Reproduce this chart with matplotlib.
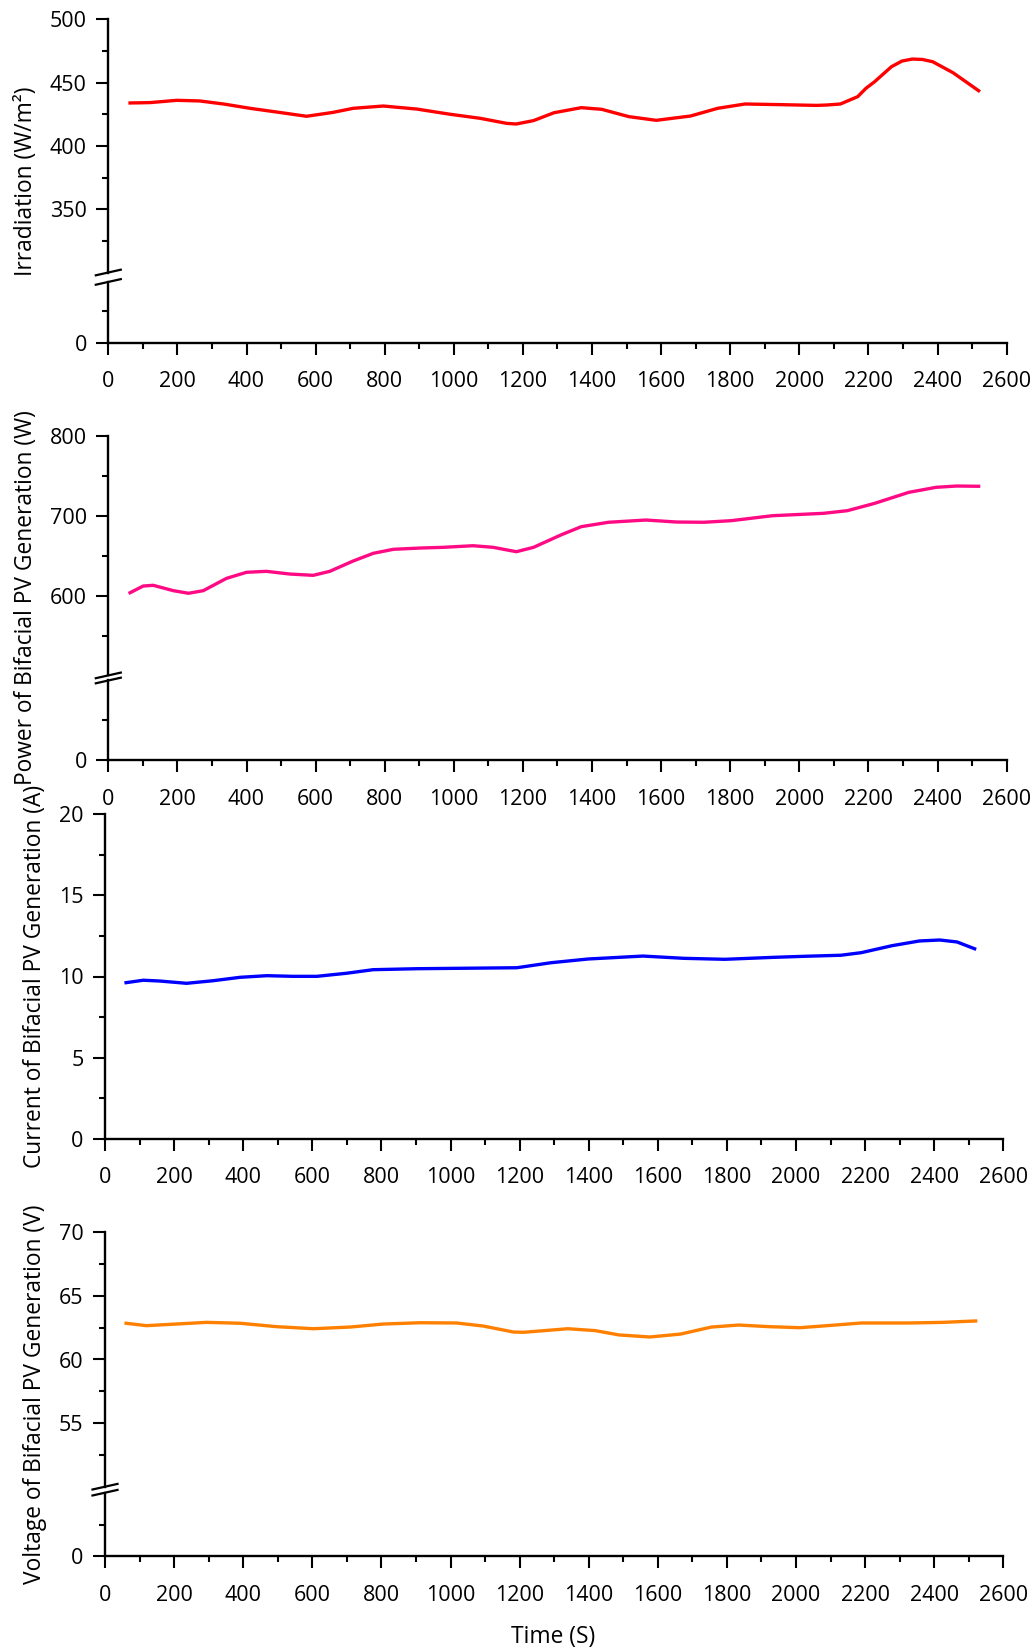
import numpy as np
import matplotlib
matplotlib.use("Agg")
import matplotlib.pyplot as plt
from matplotlib.lines import Line2D
from matplotlib.ticker import MultipleLocator

plt.rcParams['font.family'] = ['Open Sans', 'DejaVu Sans']
plt.rcParams['font.size'] = 15.5
LABEL_SIZE = 16.4

W, H = 1036, 1650

# ---- data ----
irr_t = [63, 121, 198, 265, 336, 410, 494, 574, 651, 709, 796, 893, 989, 1076, 1153,
         1181, 1231, 1290, 1369, 1428, 1507, 1586, 1685, 1764, 1843, 1942, 2050, 2080,
         2119, 2169, 2193, 2218, 2243, 2267, 2297, 2327, 2356, 2386, 2445, 2519]
irr_v = [433.9, 434.2, 436.0, 435.5, 433.0, 429.7, 426.5, 423.4, 426.5, 429.7, 431.5, 429.1,
         425.0, 421.8, 417.8, 417.3, 420.0, 426.2, 430.2, 428.9, 423.1, 420.2, 423.6, 429.7,
         433.1, 432.6, 432.0, 432.3, 433.1, 438.9, 445.5, 450.7, 456.8, 462.6, 467.0, 468.6,
         468.3, 466.5, 457.8, 443.6]

pow_t = [63, 101, 130, 188, 232, 275, 342, 400, 458, 526, 593, 641, 709, 767, 825, 902,
         970, 1056, 1114, 1181, 1231, 1310, 1369, 1448, 1556, 1645, 1724, 1803, 1922, 2070,
         2139, 2218, 2317, 2396, 2455, 2519]
pow_v = [603.6, 612.0, 612.9, 606.2, 602.9, 606.2, 621.6, 629.2, 630.4, 627.0, 625.4, 630.4,
         643.4, 653.0, 658.0, 659.6, 660.5, 662.5, 660.5, 655.0, 660.5, 676.0, 686.4, 691.9,
         694.7, 692.2, 691.9, 693.9, 700.1, 703.1, 706.4, 715.6, 729.4, 735.7, 737.3, 737.0]

cur_t = [61, 111, 159, 236, 313, 391, 468, 545, 613, 699, 776, 902, 1046, 1192, 1291,
         1399, 1557, 1676, 1794, 1933, 2031, 2130, 2189, 2278, 2357, 2416, 2466, 2517]
cur_v = [9.62, 9.77, 9.72, 9.58, 9.74, 9.95, 10.05, 10.01, 10.01, 10.20, 10.42, 10.48,
         10.51, 10.54, 10.85, 11.08, 11.26, 11.12, 11.06, 11.18, 11.25, 11.31, 11.47, 11.90,
         12.19, 12.25, 12.13, 11.71]

vol_t = [61, 120, 207, 294, 391, 497, 603, 709, 806, 912, 1018, 1095, 1182, 1212, 1340,
         1419, 1488, 1577, 1666, 1755, 1834, 1923, 2011, 2090, 2189, 2327, 2426, 2520]
vol_v = [62.85, 62.66, 62.79, 62.92, 62.85, 62.58, 62.42, 62.55, 62.79, 62.89, 62.87, 62.63,
         62.16, 62.14, 62.42, 62.27, 61.93, 61.77, 62.00, 62.55, 62.71, 62.58, 62.50, 62.66,
         62.87, 62.87, 62.92, 63.03]

xticks = list(range(0, 2601, 200))

fig = plt.figure(figsize=(W / 100, H / 100), dpi=100)


def px_axes(left, top, right, bottom):
    return fig.add_axes([left / W, 1 - bottom / H, (right - left) / W, (bottom - top) / H])


def style(ax, xaxis=True):
    for s in ['top', 'right']:
        ax.spines[s].set_visible(False)
    for s in ['left', 'bottom']:
        ax.spines[s].set_linewidth(1.7)
    ax.tick_params(which='major', direction='out', length=8.5, width=1.5, pad=7)
    ax.tick_params(which='minor', direction='out', length=4, width=1.5)
    ax.set_xlim(0, 2600)
    if xaxis:
        ax.set_xticks(xticks)
        ax.xaxis.set_minor_locator(MultipleLocator(100))
        ax.tick_params(axis='x', which='major', pad=12)
        ax.tick_params(axis='x', which='minor', length=4.5)
    else:
        ax.spines['bottom'].set_visible(False)
        ax.tick_params(axis='x', which='both', bottom=False, labelbottom=False)


def break_marks(x, y_up, y_lo):
    for yc in (y_up, y_lo):
        fig.add_artist(Line2D([(x - 12.5) / W, (x + 12.5) / W],
                              [1 - (yc + 2.8) / H, 1 - (yc - 2.8) / H],
                              color='black', lw=1.6, transform=fig.transFigure))


def broken_panel(left, right, top, bottom, hi_lim, lo_lim, scale, major, minor,
                 lo_major, lo_minor, t, v, color):
    # scale in pixels per data unit
    y_split_hi = top + (hi_lim[1] - hi_lim[0]) * scale
    y_split_lo = bottom - (lo_lim[1] - lo_lim[0]) * scale
    ax_hi = px_axes(left, top, right, y_split_hi)
    ax_lo = px_axes(left, y_split_lo, right, bottom)
    style(ax_hi, xaxis=False)
    style(ax_lo)
    ax_hi.set_ylim(*hi_lim)
    ax_lo.set_ylim(*lo_lim)
    ax_hi.set_yticks(major)
    ax_hi.set_yticks(minor, minor=True)
    ax_lo.set_yticks(lo_major)
    ax_lo.set_yticks(lo_minor, minor=True)
    ax_hi.plot(t, v, color=color, lw=2.4, clip_on=False, solid_joinstyle='round')
    break_marks(left, y_split_hi, y_split_lo)
    return ax_hi, ax_lo


# panel 1: irradiation
broken_panel(108.3, 1006.6, 19.3, 342.7, (300, 500), (0, 48), 1.266,
             [350, 400, 450, 500], [325, 375, 425, 475], [0], [25],
             irr_t, irr_v, '#ff0000')
fig.text(26 / W, 1 - 181 / H, 'Irradiation (W/m²)', rotation=90, ha='center',
         va='center', fontsize=LABEL_SIZE)

# panel 2: power
broken_panel(108.3, 1006.6, 436, 760.3, (500, 800), (0, 100), 0.798,
             [600, 700, 800], [550, 650, 750], [0], [50],
             pow_t, pow_v, '#ff0a84')
fig.text(26 / W, 1 - 598 / H, 'Power of Bifacial PV Generation (W)', rotation=90,
         ha='center', va='center', fontsize=LABEL_SIZE)

# panel 3: current
ax3 = px_axes(105, 814.3, 1003.3, 1138.7)
style(ax3)
ax3.set_ylim(0, 20)
ax3.set_yticks([0, 5, 10, 15, 20])
ax3.set_yticks([2.5, 7.5, 12.5, 17.5], minor=True)
ax3.plot(cur_t, cur_v, color='#0000ff', lw=2.4, solid_joinstyle='round')
fig.text(35 / W, 1 - 976 / H, 'Current of Bifacial PV Generation (A)', rotation=90,
         ha='center', va='center', fontsize=LABEL_SIZE)

# panel 4: voltage
broken_panel(105, 1003.3, 1232.3, 1556.3, (50, 70), (0, 5), 12.72,
             [55, 60, 65, 70], [52.5, 57.5, 62.5, 67.5], [0], [2.5],
             vol_t, vol_v, '#ff8000')
fig.text(35 / W, 1 - 1394 / H, 'Voltage of Bifacial PV Generation (V)', rotation=90,
         ha='center', va='center', fontsize=LABEL_SIZE)

fig.text(553 / W, 1 - 1637 / H, 'Time (S)', ha='center', va='center', fontsize=LABEL_SIZE)

fig.savefig('out.png', dpi=100)
